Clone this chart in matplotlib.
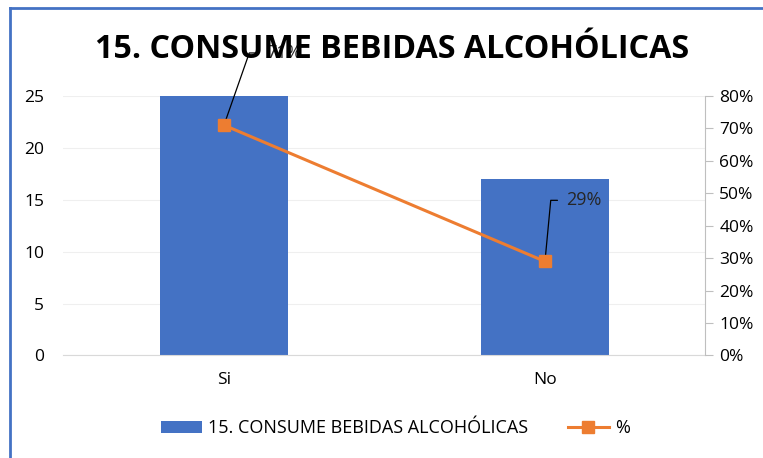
import matplotlib.pyplot as plt
from matplotlib.lines import Line2D
from matplotlib.ticker import PercentFormatter

plt.rcParams['font.family'] = ['Open Sans', 'DejaVu Sans']

categories = ['Si', 'No']
counts = [25, 17]
percents = [0.71, 0.29]
pct_labels = ['71%', '29%']
title = '15. CONSUME BEBIDAS ALCOHÓLICAS'

blue = '#4472C4'
orange = '#ED7D31'

fig = plt.figure(figsize=(7.63, 4.58), dpi=100)
ax = fig.add_axes([0.0832, 0.2238, 0.8414, 0.5666])
ax2 = ax.twinx()

x = range(len(categories))
bars = ax.bar(x, counts, width=0.4, color=blue, zorder=2, label=title)
ax.set_xlim(-0.5, 1.5)
ax.set_ylim(0, 25)
ax.set_yticks([0, 5, 10, 15, 20, 25])
ax.set_xticks(list(x))
ax.set_xticklabels(categories)
ax.grid(axis='y', color='#efefef', lw=0.8, zorder=0)
ax.tick_params(axis='y', length=0, pad=14, labelsize=12.5)
ax.tick_params(axis='x', length=0, pad=12, labelsize=12.5)
for s in ['top', 'right', 'left']:
    ax.spines[s].set_visible(False)
ax.spines['bottom'].set_color('#d9d9d9')

line, = ax2.plot(x, percents, color=orange, lw=2.2, marker='s', ms=8,
                 label='%', zorder=3)
ax2.set_ylim(0, 0.8)
ax2.set_yticks([i / 10 for i in range(9)])
ax2.yaxis.set_major_formatter(PercentFormatter(1.0, decimals=0))
ax2.tick_params(axis='y', length=6, color='#bfbfbf', labelsize=12.5, pad=4)
for s in ['top', 'left', 'bottom']:
    ax2.spines[s].set_visible(False)
ax2.spines['right'].set_color('#bfbfbf')

# data labels with leader lines
offsets = [(30, 52), (15, 44)]
angles = [70.7, 84.6]
for xi, p, lab, off, ang in zip(x, percents, pct_labels, offsets, angles):
    ax2.annotate(lab, xy=(xi, p), xytext=off, textcoords='offset points',
                 ha='left', va='center', fontsize=13, color='#262626',
                 zorder=1,
                 arrowprops=dict(arrowstyle='-', color='black', lw=0.9,
                                 relpos=(0, 0.5), shrinkA=4, shrinkB=0,
                                 connectionstyle=f'angle,angleA=0,angleB={ang},rad=0'))

fig.text(0.514, 0.893, title, ha='center', va='center', fontsize=23.2,
         fontweight='bold', color='black', zorder=10)

fig.legend([bars, line], [title, '%'], loc='center', bbox_to_anchor=(0.518, 0.065),
           ncol=2, frameon=False, fontsize=13, handlelength=2.3,
           handleheight=0.7, columnspacing=2.2, handletextpad=0.3)

# frame edges
fig.add_artist(Line2D([9.5 / 763, 9.5 / 763], [0, 1 - 7.5 / 458], color=blue, lw=2))
fig.add_artist(Line2D([9.5 / 763, 1], [1 - 7.5 / 458, 1 - 7.5 / 458], color=blue, lw=2))

fig.savefig('out.png', dpi=100)
